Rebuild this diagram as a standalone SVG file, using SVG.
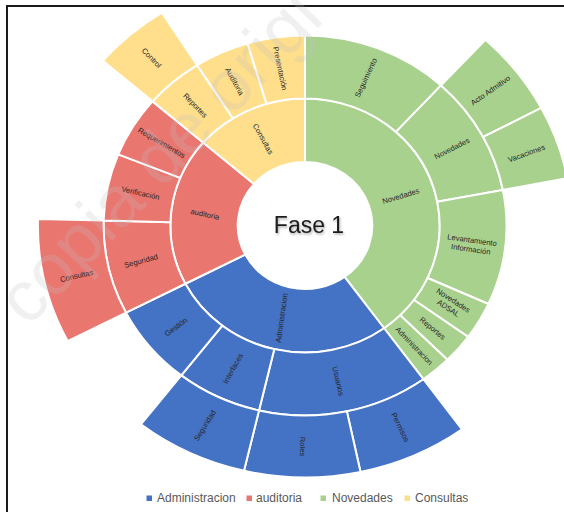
<svg xmlns="http://www.w3.org/2000/svg" width="564" height="512" viewBox="0 0 564 512">
<defs>
<style>
.seg{stroke:#fff;stroke-width:2;stroke-linejoin:round}
.adm{fill:#4472C4}.aud{fill:#EA7670}.nov{fill:#A9D18E}.con{fill:#FFDF8C}
.lb{font-family:"Liberation Sans",Arial,sans-serif;font-size:7.6px;fill:#262626;text-anchor:middle;dominant-baseline:central}
.lg{font-family:"Liberation Sans",Arial,sans-serif;font-size:12px;fill:#595959}
.wm{font-family:"Liberation Sans",Arial,sans-serif;font-size:72px;fill:#bfbfbf;fill-opacity:0.24}
</style>
<filter id="sh" x="-20%" y="-40%" width="140%" height="180%">
<feDropShadow dx="1" dy="1.5" stdDeviation="1.2" flood-color="#000" flood-opacity="0.35"/>
</filter>
</defs>
<rect width="564" height="512" fill="#fff"/>
<path d="M7,512 V6 H564" fill="none" stroke="#1a1a1a" stroke-width="2"/>

<g id="nodes">
<g id="l1-novedades"><path class="seg nov" d="M305,162 L305,98.5 A134.62,127 0 0 1 384.13,328.25 L344.56,276.87 A67.31,63.5 0 0 0 305,162 Z"/><text class="lb" transform="translate(400.8 196.1) rotate(-17)">Novedades</text></g>
<g id="l1-administracion"><path class="seg adm" d="M344.56,276.87 L384.13,328.25 A134.62,127 0 0 1 185.38,283.75 L245.18,254.62 A67.31,63.5 0 0 0 344.56,276.87 Z"/><text class="lb" transform="translate(281.7 317.9) rotate(-82)">Administracion</text></g>
<g id="l1-auditoria"><path class="seg aud" d="M245.18,254.62 L185.38,283.75 A134.62,127 0 0 1 203.09,142.52 L254.05,184.01 A67.31,63.5 0 0 0 245.18,254.62 Z"/><text class="lb" transform="translate(205 214.3) rotate(12)">auditoria</text></g>
<g id="l1-consultas"><path class="seg con" d="M254.05,184.01 L203.09,142.52 A134.62,127 0 0 1 305,98.5 L305,162 A67.31,63.5 0 0 0 254.05,184.01 Z"/><text class="lb" transform="translate(263 139) rotate(61)">Consultas</text></g>

<g id="l2-seguimiento"><path class="seg nov" d="M305,98.5 L305,35.5 A201.4,190 0 0 1 441.06,85.42 L395.95,131.87 A134.62,127 0 0 0 305,98.5 Z"/><text class="lb" transform="translate(366 77.8) rotate(-65)">Seguimiento</text></g>
<g id="l2-novedades"><path class="seg nov" d="M395.95,131.87 L441.06,85.42 A201.4,190 0 0 1 502.84,189.9 L437.24,201.7 A134.62,127 0 0 0 395.95,131.87 Z"/><text class="lb" transform="translate(452 148.5) rotate(-27)">Novedades</text></g>
<g id="l2-levantamiento"><path class="seg nov" d="M437.24,201.7 L502.84,189.9 A201.4,190 0 0 1 488.41,303.99 L427.6,277.96 A134.62,127 0 0 0 437.24,201.7 Z"/><text class="lb" transform="translate(471.5 244.3) rotate(8)"><tspan x="0" y="-4.6">Levantamiento</tspan><tspan x="0" y="4.6">Información</tspan></text></g>
<g id="l2-adsal"><path class="seg nov" d="M427.6,277.96 L488.41,303.99 A201.4,190 0 0 1 468.14,336.91 L414.04,299.97 A134.62,127 0 0 0 427.6,277.96 Z"/><text class="lb" transform="translate(451 304) rotate(33)"><tspan x="0" y="-4.6">Novedades</tspan><tspan x="0" y="4.6">ADSAL</tspan></text></g>
<g id="l2-reportes-nov"><path class="seg nov" d="M414.04,299.97 L468.14,336.91 A201.4,190 0 0 1 447.41,359.85 L400.19,315.3 A134.62,127 0 0 0 414.04,299.97 Z"/><text class="lb" transform="translate(432.5 328.4) rotate(40)">Reportes</text></g>
<g id="l2-administracion-nov"><path class="seg nov" d="M400.19,315.3 L447.41,359.85 A201.4,190 0 0 1 423.38,379.21 L384.13,328.25 A134.62,127 0 0 0 400.19,315.3 Z"/><text class="lb" transform="translate(414 346) rotate(46)">Administracion</text></g>
<g id="l2-usuarios"><path class="seg adm" d="M384.13,328.25 L423.38,379.21 A201.4,190 0 0 1 259.01,410.48 L274.26,349.14 A134.62,127 0 0 0 384.13,328.25 Z"/><text class="lb" transform="translate(338 381) rotate(77)">Usuarios</text></g>
<g id="l2-interfaces"><path class="seg adm" d="M274.26,349.14 L259.01,410.48 A201.4,190 0 0 1 181.28,375.43 L222.31,325.71 A134.62,127 0 0 0 274.26,349.14 Z"/><text class="lb" transform="translate(233 368.5) rotate(-61)">Interfaces</text></g>
<g id="l2-gestion"><path class="seg adm" d="M222.31,325.71 L181.28,375.43 A201.4,190 0 0 1 126.03,312.64 L185.38,283.75 A134.62,127 0 0 0 222.31,325.71 Z"/><text class="lb" transform="translate(176 327) rotate(-37)">Gestión</text></g>
<g id="l2-seguridad-aud"><path class="seg aud" d="M185.38,283.75 L126.03,312.64 A201.4,190 0 0 1 103.66,220.53 L170.42,222.18 A134.62,127 0 0 0 185.38,283.75 Z"/><text class="lb" transform="translate(141 261) rotate(-15)">Seguridad</text></g>
<g id="l2-verificacion"><path class="seg aud" d="M170.42,222.18 L103.66,220.53 A201.4,190 0 0 1 118.27,154.32 L180.18,177.92 A134.62,127 0 0 0 170.42,222.18 Z"/><text class="lb" transform="translate(140.5 193.2) rotate(12.5)">Verificación</text></g>
<g id="l2-requerimientos"><path class="seg aud" d="M180.18,177.92 L118.27,154.32 A201.4,190 0 0 1 152.54,101.35 L203.09,142.52 A134.62,127 0 0 0 180.18,177.92 Z"/><text class="lb" transform="translate(161.6 142.9) rotate(30)">Requerimientos</text></g>
<g id="l2-reportes-con"><path class="seg con" d="M203.09,142.52 L152.54,101.35 A201.4,190 0 0 1 197.08,65.08 L232.87,118.27 A134.62,127 0 0 0 203.09,142.52 Z"/><text class="lb" transform="translate(195.2 105.5) rotate(46)">Reportes</text></g>
<g id="l2-auditoria-con"><path class="seg con" d="M232.87,118.27 L197.08,65.08 A201.4,190 0 0 1 247.46,43.42 L266.54,103.79 A134.62,127 0 0 0 232.87,118.27 Z"/><text class="lb" transform="translate(234.5 81.5) rotate(61)">Auditoria</text></g>
<g id="l2-presentacion"><path class="seg con" d="M266.54,103.79 L247.46,43.42 A201.4,190 0 0 1 305,35.5 L305,98.5 A134.62,127 0 0 0 266.54,103.79 Z"/><text class="lb" transform="translate(280 68.5) rotate(78)">Presentación</text></g>

<g id="l3-acto"><path class="seg nov" d="M441.06,85.42 L485.47,39.71 A267.12,252 0 0 1 541.28,107.97 L483.15,136.89 A201.4,190 0 0 0 441.06,85.42 Z"/><text class="lb" transform="translate(490.5 90.5) rotate(-35)">Acto Admitivo</text></g>
<g id="l3-vacaciones"><path class="seg nov" d="M483.15,136.89 L541.28,107.97 A267.12,252 0 0 1 567.39,178.28 L502.84,189.9 A201.4,190 0 0 0 483.15,136.89 Z"/><text class="lb" transform="translate(526.5 153.5) rotate(-20)">Vacaciones</text></g>
<g id="l3-permisos"><path class="seg adm" d="M423.38,379.21 L462.01,429.37 A267.12,252 0 0 1 360.53,471.99 L346.87,411.35 A201.4,190 0 0 0 423.38,379.21 Z"/><text class="lb" transform="translate(400.3 427.4) rotate(64)">Permisos</text></g>
<g id="l3-roles"><path class="seg adm" d="M346.87,411.35 L360.53,471.99 A267.12,252 0 0 1 244.01,470.84 L259.01,410.48 A201.4,190 0 0 0 346.87,411.35 Z"/><text class="lb" transform="translate(302.5 446.5) rotate(90)">Roles</text></g>
<g id="l3-seguridad-adm"><path class="seg adm" d="M259.01,410.48 L244.01,470.84 A267.12,252 0 0 1 140.91,424.35 L181.28,375.43 A201.4,190 0 0 0 259.01,410.48 Z"/><text class="lb" transform="translate(205 425.5) rotate(-58)">Seguridad</text></g>
<g id="l3-consultas-aud"><path class="seg aud" d="M126.03,312.64 L67.63,341.08 A267.12,252 0 0 1 37.97,218.9 L103.66,220.53 A201.4,190 0 0 0 126.03,312.64 Z"/><text class="lb" transform="translate(76.6 276) rotate(-13)">Consultas</text></g>
<g id="l3-control"><path class="seg con" d="M152.54,101.35 L102.79,60.84 A267.12,252 0 0 1 161.87,12.73 L197.08,65.08 A201.4,190 0 0 0 152.54,101.35 Z"/><text class="lb" transform="translate(151.5 58) rotate(46)">Control</text></g>

<g id="center"><ellipse cx="305" cy="225.5" rx="66.5" ry="63" fill="#fff"/><text x="309" y="233" font-family="Liberation Sans, Arial, sans-serif" font-size="23" fill="#1e1e1e" text-anchor="middle" filter="url(#sh)">Fase 1</text></g>
</g>

<g id="legend">
<rect x="146.5" y="495.5" width="5.5" height="5.5" class="adm"/><text class="lg" x="157" y="501.5">Administracion</text>
<rect x="246.5" y="495.5" width="5.5" height="5.5" class="aud"/><text class="lg" x="256" y="501.5">auditoria</text>
<rect x="320.5" y="495.5" width="5.5" height="5.5" class="nov"/><text class="lg" x="332" y="501.5">Novedades</text>
<rect x="404.5" y="495.5" width="5.5" height="5.5" class="con"/><text class="lg" x="415" y="501.5">Consultas</text>
</g>

<g id="watermark"><text class="wm" transform="translate(28 328) rotate(-46)">copia de origi</text></g>
</svg>
